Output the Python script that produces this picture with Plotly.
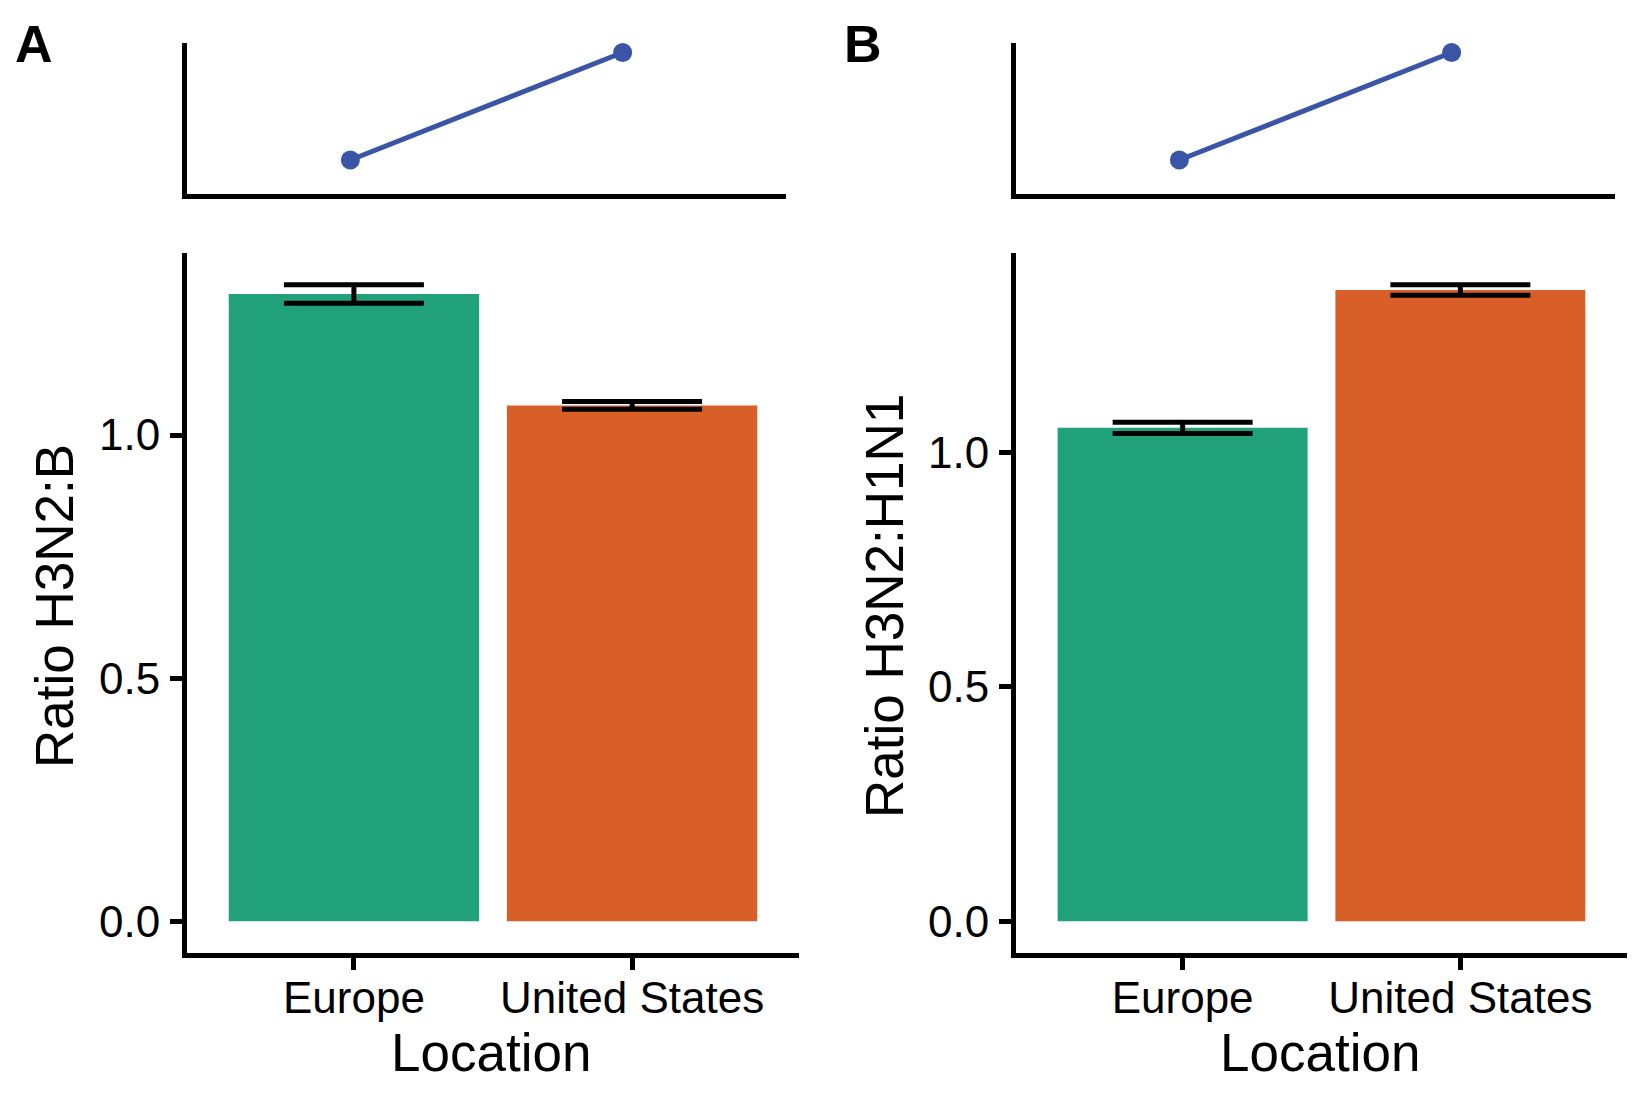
import plotly.graph_objects as go

# data
locations = ["Europe", "United States"]

# panel A: ratio H3N2:B
ratio_b = [1.290, 1.061]
ratio_b_err = [0.019, 0.008]
top_a = [0.225, 0.937]

# panel B: ratio H3N2:H1N1
ratio_h1 = [1.052, 1.346]
ratio_h1_err = [0.012, 0.011]
top_b = [0.225, 0.937]

bar_colors = ["#21A179", "#D95F29"]
line_color = "#3A55A6"

# the page body adds 8px around the plot, so the figure is a bit smaller
PAD = 8
W, H = 1650 - 2 * PAD, 1100 - 2 * PAD
FONT = "Liberation Sans, Arial, sans-serif"


def px_x(x):
    # screen pixel -> paper fraction
    return (x - PAD) / W


def px_y(y):
    return 1 - (y - PAD) / H


fig = go.Figure()

# bottom bar panels
for i, (vals, errs) in enumerate([(ratio_b, ratio_b_err), (ratio_h1, ratio_h1_err)]):
    fig.add_trace(go.Bar(
        x=locations, y=vals,
        marker=dict(color=bar_colors, line=dict(width=0)),
        width=0.9,
        error_y=dict(type="data", array=errs, color="black", thickness=5, width=70),
        xaxis="x" if i == 0 else "x2",
        yaxis="y" if i == 0 else "y2",
        showlegend=False,
    ))

# top line panels
for i, vals in enumerate([top_a, top_b]):
    fig.add_trace(go.Scatter(
        x=locations, y=vals, mode="lines+markers",
        line=dict(color=line_color, width=5),
        marker=dict(color=line_color, size=19),
        xaxis="x3" if i == 0 else "x4",
        yaxis="y3" if i == 0 else "y4",
        showlegend=False,
    ))

axis_common = dict(
    showgrid=False, zeroline=False, showline=True,
    linecolor="black", linewidth=5,
)
tick_common = dict(
    ticks="outside", ticklen=12, tickwidth=5, tickcolor="black",
    tickfont=dict(family=FONT, size=44, color="black"),
)


def yrange(vals, errs):
    ymax = max(v + e for v, e in zip(vals, errs))
    return [-0.05 * ymax, 1.05 * ymax]


fig.update_layout(
    width=W, height=H,
    margin=dict(l=0, r=0, t=0, b=0),
    plot_bgcolor="white", paper_bgcolor="white",
    xaxis=dict(domain=[px_x(187), px_x(799)], anchor="y", range=[-0.6, 1.6],
               ticklabelstandoff=-10, **axis_common, **tick_common),
    yaxis=dict(domain=[px_y(953), px_y(253)], anchor="x",
               range=yrange(ratio_b, ratio_b_err),
               tickvals=[0, 0.5, 1.0], tickformat=".1f", ticklabelstandoff=1,
               **axis_common, **tick_common),
    xaxis2=dict(domain=[px_x(1016), px_x(1627)], anchor="y2", range=[-0.6, 1.6],
                ticklabelstandoff=-10, **axis_common, **tick_common),
    yaxis2=dict(domain=[px_y(953), px_y(253)], anchor="x2",
                range=yrange(ratio_h1, ratio_h1_err),
                tickvals=[0, 0.5, 1.0], tickformat=".1f", ticklabelstandoff=1,
                **axis_common, **tick_common),
    xaxis3=dict(domain=[px_x(187), px_x(786)], anchor="y3", range=[-0.6, 1.6],
                showticklabels=False, **axis_common),
    yaxis3=dict(domain=[px_y(194), px_y(43)], anchor="x3", range=[0, 1],
                showticklabels=False, **axis_common),
    xaxis4=dict(domain=[px_x(1016), px_x(1615)], anchor="y4", range=[-0.6, 1.6],
                showticklabels=False, **axis_common),
    yaxis4=dict(domain=[px_y(194), px_y(43)], anchor="x4", range=[0, 1],
                showticklabels=False, **axis_common),
)

# panel letters and axis titles
labels = [
    dict(text="<b>A</b>", x=34, y=44, size=52, angle=0),
    dict(text="<b>B</b>", x=863, y=44, size=52, angle=0),
    dict(text="Ratio H3N2:B", x=54, y=606, size=53, angle=-90),
    dict(text="Ratio H3N2:H1N1", x=884, y=606, size=53, angle=-90),
    dict(text="Location", x=491, y=1052, size=53, angle=0),
    dict(text="Location", x=1320, y=1052, size=53, angle=0),
]
for lb in labels:
    fig.add_annotation(
        text=lb["text"], x=px_x(lb["x"]), y=px_y(lb["y"]),
        xref="paper", yref="paper", xanchor="center", yanchor="middle",
        showarrow=False, textangle=lb["angle"],
        font=dict(family=FONT, size=lb["size"], color="black"),
    )

fig.write_html("out.html")
